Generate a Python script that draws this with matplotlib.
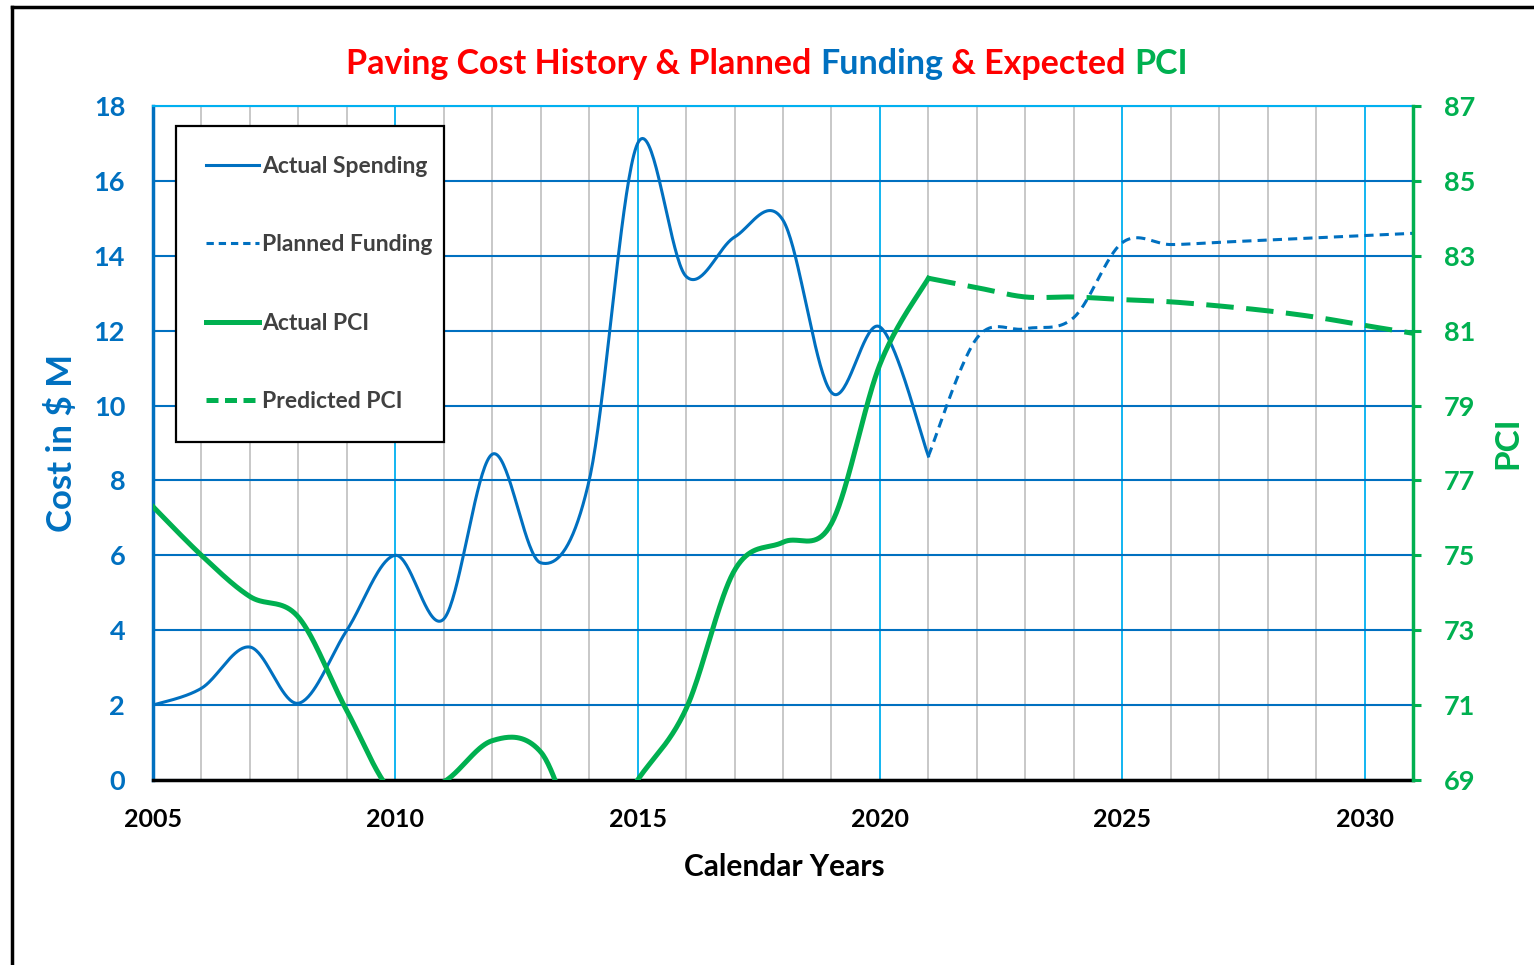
import numpy as np
import matplotlib.pyplot as plt
from matplotlib.lines import Line2D

plt.rcParams['font.family'] = ['Lato', 'DejaVu Sans']

# data
spend_years = list(range(2005, 2022))
spend_cost = [2.0, 2.45, 3.55, 2.05, 4.0, 6.0, 4.3, 8.7, 5.8, 8.0, 17.0,
              13.45, 14.5, 14.95, 10.35, 12.1, 8.65]

plan_years = list(range(2021, 2032))
plan_cost = [8.65, 11.8, 12.05, 12.35, 14.35, 14.3, 14.36, 14.42, 14.48, 14.54, 14.6]

pci_years = list(range(2005, 2022))
pci_actual = [76.3, 75.0, 73.9, 73.35, 70.85, 68.6, 68.95, 70.05, 69.75, 67.1, 69.0,
              70.9, 74.6, 75.35, 75.85, 80.1, 82.4]

pred_years = list(range(2021, 2032))
pci_pred = [82.4, 82.15, 81.9, 81.9, 81.83, 81.77, 81.66, 81.53, 81.36, 81.14, 80.93]

cost_ticks = list(range(0, 19, 2))
pci_ticks = list(range(69, 88, 2))
year_ticks = list(range(2005, 2031, 5))

BLUE = '#0070C0'
GREEN = '#00B050'
RED = '#FF0000'
SKY = '#00B0F0'
GREY = '#404040'


def smooth(xs, ys, n=40):
    # excel style smoothed line (catmull-rom as bezier)
    x = np.asarray(xs, float)
    y = np.asarray(ys, float)
    px = np.concatenate([[x[0]], x, [x[-1]]])
    py = np.concatenate([[y[0]], y, [y[-1]]])
    t = np.linspace(0, 1, n)[:, None]
    out = []
    for i in range(len(x) - 1):
        p0 = np.array([px[i], py[i]])
        p1 = np.array([px[i + 1], py[i + 1]])
        p2 = np.array([px[i + 2], py[i + 2]])
        p3 = np.array([px[i + 3], py[i + 3]])
        c1 = p1 + (p2 - p0) / 6
        c2 = p2 - (p3 - p1) / 6
        seg = ((1 - t) ** 3) * p1 + 3 * ((1 - t) ** 2) * t * c1 + 3 * (1 - t) * t ** 2 * c2 + t ** 3 * p2
        out.append(seg if i == 0 else seg[1:])
    out = np.vstack(out)
    return out[:, 0], out[:, 1]


fig = plt.figure(figsize=(15.34, 9.65), dpi=100)
ax = fig.add_axes([153 / 1534, 185 / 965, 1260 / 1534, 674 / 965])
ax2 = ax.twinx()

# grid
ax.set_xlim(2005, 2031)
ax.set_ylim(0, 18)
ax.set_xticks(year_ticks)
ax.set_xticks(range(2005, 2032), minor=True)
ax.set_yticks(cost_ticks)
ax.grid(which='minor', axis='x', color='#BFBFBF', lw=1.2)
ax.grid(which='major', axis='x', color=SKY, lw=1.3)
ax.grid(which='major', axis='y', color=BLUE, lw=1.5)
ax.set_axisbelow(True)
ax.tick_params(axis='x', which='both', length=0, pad=20, labelsize=18, labelcolor='black')
ax.tick_params(axis='y', length=0, pad=20, labelsize=19.5, labelcolor=BLUE)
for lab in ax.get_xticklabels() + ax.get_yticklabels():
    lab.set_fontweight('bold')

ax.spines['left'].set_color(BLUE)
ax.spines['left'].set_linewidth(2.5)
ax.spines['bottom'].set_color('black')
ax.spines['bottom'].set_linewidth(2.5)
ax.spines['top'].set_color(SKY)
ax.spines['top'].set_linewidth(1.5)
ax.spines['right'].set_visible(False)

ax2.set_ylim(69, 87)
ax2.set_yticks(pci_ticks)
ax2.tick_params(axis='y', length=6, width=2.2, color=GREEN, direction='out', pad=16,
                labelsize=19.5, labelcolor=GREEN)
for lab in ax2.get_yticklabels():
    lab.set_fontweight('bold')
for s in ['left', 'top', 'bottom']:
    ax2.spines[s].set_visible(False)
ax2.spines['right'].set_color(GREEN)
ax2.spines['right'].set_linewidth(2.5)

# lines
sx, sy = smooth(spend_years, spend_cost)
ax.plot(sx, sy, color=BLUE, lw=2.2)
px_, py_ = smooth(plan_years, plan_cost)
ax.plot(px_, py_, color=BLUE, lw=2.2, dashes=(3, 2))

gx, gy = smooth(pci_years, pci_actual)
ax2.plot(gx, gy, color=GREEN, lw=3.6)
qx, qy = smooth(pred_years, pci_pred)
ax2.plot(qx, qy, color=GREEN, lw=3.6, dashes=(5.5, 2.5))

handles = [
    Line2D([], [], color=BLUE, lw=2.2),
    Line2D([], [], color=BLUE, lw=2.2, dashes=(2.4, 1.6)),
    Line2D([], [], color=GREEN, lw=3.6),
    Line2D([], [], color=GREEN, lw=3.6, dashes=(2.4, 1.3)),
]
labels = ['Actual Spending', 'Planned Funding', 'Actual PCI', 'Predicted PCI']
leg = ax2.legend(handles, labels, loc='upper left', mode='expand',
                 bbox_to_anchor=(23 / 1260, 0.503, 268 / 1260, 0.467),
                 borderaxespad=0, fancybox=False, edgecolor='black', framealpha=1,
                 borderpad=1.3, labelspacing=2.5, handlelength=2.3, handletextpad=0.15,
                 prop={'size': 16.5, 'weight': 'bold'}, labelcolor=GREY)
leg.get_frame().set_linewidth(1.6)

# axis titles
fig.text(62 / 1534, 1 - 443 / 965, 'Cost in \\$ M', rotation=90, ha='center', va='center',
         fontsize=25, fontweight='bold', color=BLUE)
fig.text(1508 / 1534, 1 - 443 / 965, 'PCI', rotation=90, ha='center', va='center',
         fontsize=24, fontweight='bold', color=GREEN)
fig.text(784 / 1534, 1 - 867 / 965, 'Calendar Years', ha='center', va='center',
         fontsize=21.5, fontweight='bold', color='black')

# multicoloured title
parts = [('Paving Cost History & Planned ', RED), ('Funding', BLUE),
         (' & Expected ', RED), ('PCI', GREEN)]
first = fig.text(350 / 1534, 1 - 80 / 965, parts[0][0], color=parts[0][1],
                 fontsize=24.5, fontweight='bold', ha='left', va='bottom')
pieces = [first]
for txt, col in parts[1:]:
    piece = plt.annotate(txt, xy=(1, 0), xycoords=pieces[-1], color=col, fontsize=24.5,
                         fontweight='bold', ha='left', va='bottom', annotation_clip=False)
    pieces.append(piece)

fig.canvas.draw()
r = fig.canvas.get_renderer()
left = pieces[0].get_window_extent(r).x0
right = pieces[-1].get_window_extent(r).x1
shift = (767 - (left + right) / 2) / 1534
x0, y0 = first.get_position()
first.set_position((x0 + shift, y0))

# outer frame
fig.add_artist(Line2D([12 / 1534, 12 / 1534], [0, 1 - 7 / 965], color='black', lw=2.5,
                      transform=fig.transFigure))
fig.add_artist(Line2D([12 / 1534, 1], [1 - 7 / 965, 1 - 7 / 965], color='black', lw=2.5,
                      transform=fig.transFigure))

fig.savefig('out.png', dpi=100)
